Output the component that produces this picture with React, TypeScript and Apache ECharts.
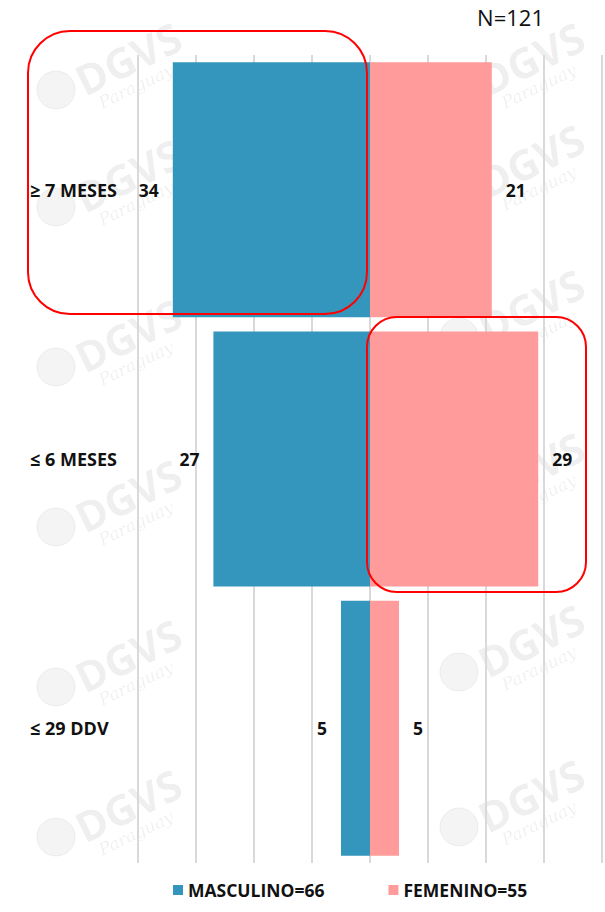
import React, { useEffect, useRef } from "react";
import * as echarts from "echarts";

const categories = ["≥ 7 MESES", "≤ 6 MESES", "≤ 29 DDV"];
const masculino = [34, 27, 5];
const femenino = [21, 29, 5];
const seriesNames = ["MASCULINO=66", "FEMENINO=55"];
const titleText = "N=121";

const BLUE = "#3596BD";
const PINK = "#FF9B9B";
const FONT = "'Open Sans', sans-serif";

const wmLeft = [58, 175, 335, 495, 655, 805];
const wmRight = [58, 160, 305, 468, 640, 795];

function watermark(cx: number, cy: number) {
  return {
    type: "group",
    x: cx,
    y: cy,
    z: -10,
    silent: true,
    children: [
      {
        type: "text",
        rotation: 0.45,
        style: {
          text: "DGVS",
          fontFamily: FONT,
          fontWeight: "bold",
          fontSize: 42,
          fill: "rgba(0,0,0,0.07)",
          align: "center",
          verticalAlign: "middle",
        },
      },
      {
        type: "text",
        x: 8,
        y: 28,
        rotation: 0.45,
        style: {
          text: "Paraguay",
          fontFamily: "'DejaVu Serif', serif",
          fontStyle: "italic",
          fontSize: 17,
          fill: "rgba(0,0,0,0.07)",
          align: "center",
          verticalAlign: "middle",
        },
      },
      {
        type: "circle",
        shape: { cx: -72, cy: 32, r: 19 },
        style: { fill: "rgba(0,0,0,0.045)", stroke: "rgba(0,0,0,0.06)", lineWidth: 1 },
      },
    ],
  };
}

export default function App() {
  const ref = useRef<HTMLDivElement>(null);
  useEffect(() => {
    document.body.style.margin = "0";
    if (!ref.current) return;
    const chart = echarts.init(ref.current, null, { renderer: "svg" });
    const wms: any[] = [];
    wmLeft.forEach((y) => wms.push(watermark(128, y)));
    wmRight.forEach((y) => wms.push(watermark(531, y)));
    chart.setOption({
      animation: false,
      backgroundColor: "#ffffff",
      textStyle: { fontFamily: FONT },
      title: {
        text: titleText,
        right: 56,
        top: 1,
        textStyle: { fontFamily: FONT, fontWeight: "normal", fontSize: 22, color: "#111" },
      },
      legend: {
        data: seriesNames,
        bottom: 8,
        left: 168,
        itemWidth: 10,
        itemHeight: 10,
        itemGap: 64,
        icon: "rect",
        textStyle: { fontFamily: FONT, fontWeight: "bold", fontSize: 17.5, color: "#111" },
      },
      grid: { left: 138, right: 3, top: 55, bottom: 49, containLabel: false },
      xAxis: {
        type: "value",
        min: -40,
        max: 40,
        interval: 10,
        axisLabel: { show: false },
        axisLine: { show: false },
        axisTick: { show: false },
        splitLine: { show: true, lineStyle: { color: "#d9d9d9", width: 2 } },
      },
      yAxis: {
        type: "category",
        data: categories,
        inverse: true,
        axisLine: { show: false },
        axisTick: { show: false },
        axisLabel: {
          align: "left",
          margin: 108,
          fontFamily: FONT,
          fontWeight: "bold",
          fontSize: 18,
          color: "#111",
        },
      },
      graphic: [
        ...wms,
        {
          type: "rect",
          z: 100,
          shape: { x: 28, y: 31, width: 339, height: 283, r: 42 },
          style: { fill: "none", stroke: "#FF0000", lineWidth: 2 },
        },
        {
          type: "rect",
          z: 100,
          shape: { x: 367, y: 317, width: 219, height: 275, r: 30 },
          style: { fill: "none", stroke: "#FF0000", lineWidth: 2 },
        },
      ],
      series: [
        {
          name: seriesNames[0],
          type: "bar",
          stack: "total",
          barCategoryGap: "5.3%",
          itemStyle: { color: BLUE },
          data: masculino.map((v) => -v),
          label: {
            show: true,
            position: "left",
            distance: 14,
            formatter: (p: any) => String(Math.abs(p.value)),
            fontFamily: FONT,
            fontWeight: "bold",
            fontSize: 17.5,
            color: "#111",
          },
        },
        {
          name: seriesNames[1],
          type: "bar",
          stack: "total",
          barCategoryGap: "5.3%",
          itemStyle: { color: PINK },
          data: femenino,
          label: {
            show: true,
            position: "right",
            distance: 14,
            fontFamily: FONT,
            fontWeight: "bold",
            fontSize: 17.5,
            color: "#111",
          },
        },
      ],
    });
    return () => chart.dispose();
  }, []);
  return <div ref={ref} style={{ width: 605, height: 912 }} />;
}
